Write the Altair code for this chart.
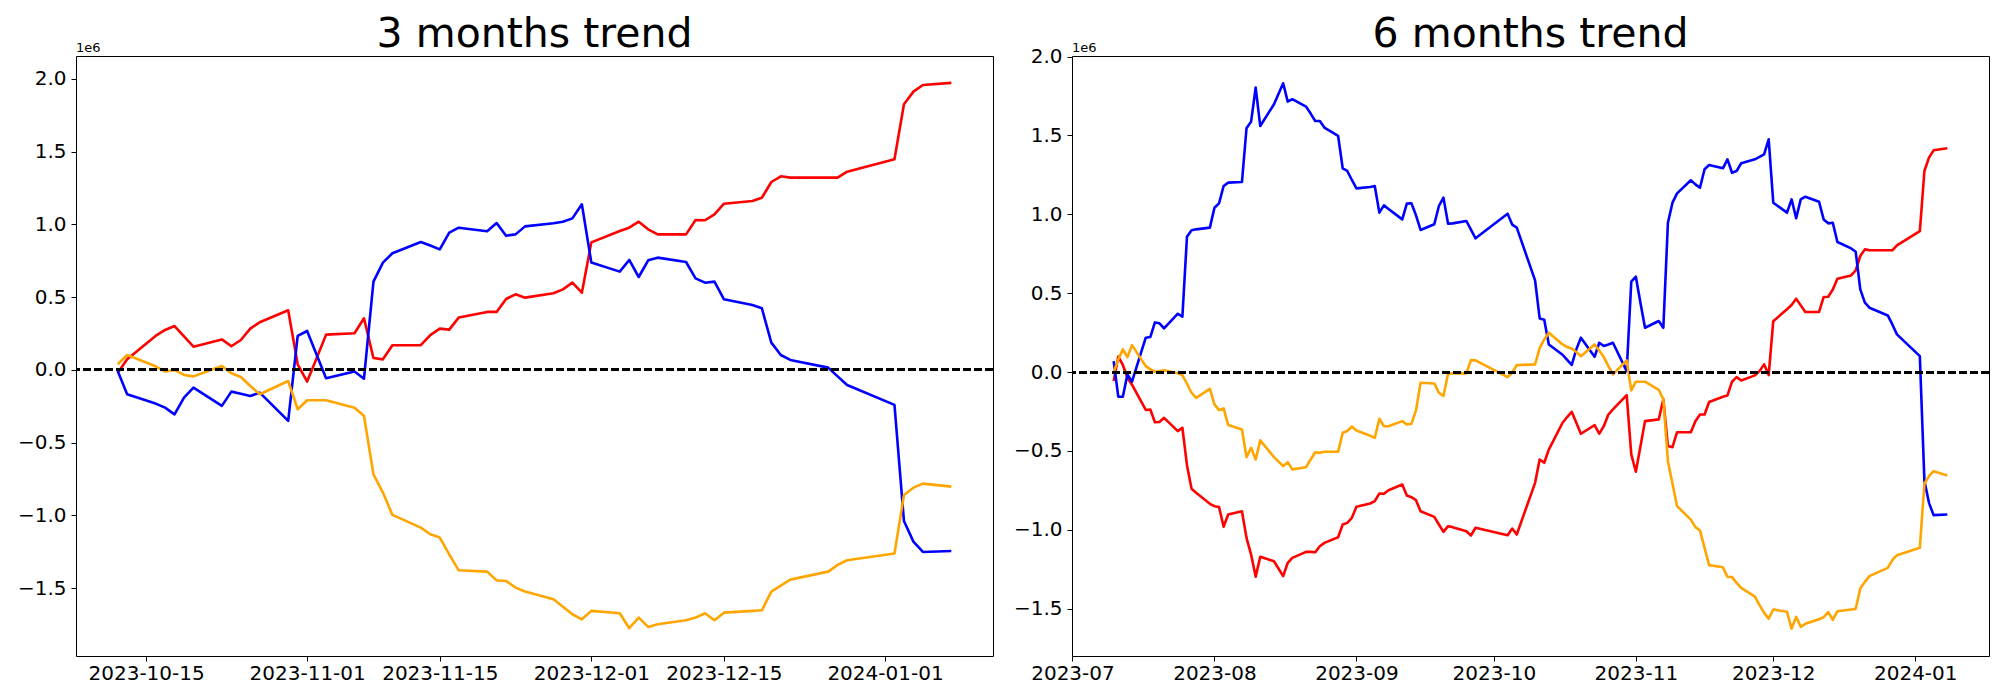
import altair as alt
import pandas as pd

# ---------------- 3 months panel (values in units of 1e6) ----------------
L_DATES = [
    "2023-10-12", "2023-10-13", "2023-10-16", "2023-10-17", "2023-10-18", "2023-10-19", "2023-10-20",
    "2023-10-23", "2023-10-24", "2023-10-25", "2023-10-26", "2023-10-27", "2023-10-30", "2023-10-31",
    "2023-11-01", "2023-11-02", "2023-11-03", "2023-11-06", "2023-11-07", "2023-11-08", "2023-11-09",
    "2023-11-10", "2023-11-13", "2023-11-14", "2023-11-15", "2023-11-16", "2023-11-17", "2023-11-20",
    "2023-11-21", "2023-11-22", "2023-11-23", "2023-11-24", "2023-11-27", "2023-11-28", "2023-11-29",
    "2023-11-30", "2023-12-01", "2023-12-04", "2023-12-05", "2023-12-06", "2023-12-07", "2023-12-08",
    "2023-12-11", "2023-12-12", "2023-12-13", "2023-12-14", "2023-12-15", "2023-12-18", "2023-12-19",
    "2023-12-20", "2023-12-21", "2023-12-22", "2023-12-26", "2023-12-27", "2023-12-28", "2024-01-02",
    "2024-01-03", "2024-01-04", "2024-01-05", "2024-01-08",
]
L_RED = [
    -0.02, 0.073, 0.234, 0.275, 0.302, 0.231, 0.16, 0.21, 0.163, 0.206, 0.284, 0.328, 0.41, 0.039,
    -0.08, 0.08, 0.243, 0.252, 0.355, 0.082, 0.073, 0.17, 0.17, 0.24, 0.284, 0.277, 0.36, 0.399,
    0.399, 0.488, 0.52, 0.497, 0.527, 0.554, 0.60, 0.531,
    0.877, 0.955, 0.978, 1.019, 0.967, 0.932, 0.932, 1.031, 1.029, 1.07, 1.143, 1.161, 1.184,
    1.292, 1.331, 1.322, 1.322, 1.322, 1.363,
    1.448, 1.826, 1.913, 1.959, 1.973,
]
L_BLUE = [
    -0.007, -0.167, -0.231, -0.259, -0.305, -0.19, -0.121, -0.247, -0.149, -0.163, -0.179, -0.156, -0.35, 0.234,
    0.268, 0.105, -0.057, -0.011, -0.06, 0.607, 0.738, 0.802, 0.88, 0.855, 0.829, 0.944, 0.978, 0.953,
    1.01, 0.923, 0.932, 0.987, 1.008, 1.019, 1.042, 1.139,
    0.738, 0.676, 0.756, 0.639, 0.754, 0.772, 0.742, 0.63, 0.6, 0.607, 0.486, 0.447, 0.424,
    0.188, 0.103, 0.069, 0.016, -0.044, -0.103,
    -0.24, -1.038, -1.18, -1.251, -1.244,
]
L_ORANGE = [
    0.039, 0.103, 0.025, -0.011, 0.0, -0.034, -0.044, 0.027, -0.023, -0.048, -0.11, -0.167, -0.076, -0.27,
    -0.208, -0.208, -0.208, -0.259, -0.316, -0.717, -0.843, -0.996, -1.084, -1.129, -1.152, -1.267, -1.377, -1.386,
    -1.446, -1.45, -1.496, -1.523, -1.576, -1.627, -1.679, -1.714,
    -1.656, -1.672, -1.775, -1.702, -1.766, -1.748, -1.72, -1.702, -1.672, -1.72, -1.668, -1.656, -1.652,
    -1.523, -1.482, -1.441, -1.386, -1.34, -1.308,
    -1.262, -0.859, -0.809, -0.781, -0.802,
]

# ---------------- 6 months panel (values in units of 1e6) ----------------
R_DATES = [
    "2023-07-10", "2023-07-11", "2023-07-12", "2023-07-13", "2023-07-14", "2023-07-17", "2023-07-18",
    "2023-07-19", "2023-07-20", "2023-07-21", "2023-07-24", "2023-07-25", "2023-07-26", "2023-07-27",
    "2023-07-28", "2023-07-31",
    "2023-08-01", "2023-08-02", "2023-08-03", "2023-08-04", "2023-08-07", "2023-08-08", "2023-08-09",
    "2023-08-10", "2023-08-11", "2023-08-14", "2023-08-16", "2023-08-17", "2023-08-18", "2023-08-21",
    "2023-08-22", "2023-08-23", "2023-08-24", "2023-08-25", "2023-08-28", "2023-08-29", "2023-08-30",
    "2023-08-31",
    "2023-09-01", "2023-09-04", "2023-09-05", "2023-09-06", "2023-09-07", "2023-09-08", "2023-09-11",
    "2023-09-12", "2023-09-13", "2023-09-14", "2023-09-15", "2023-09-18", "2023-09-19", "2023-09-20",
    "2023-09-21", "2023-09-22", "2023-09-25", "2023-09-26", "2023-09-27",
    "2023-10-04", "2023-10-05", "2023-10-06", "2023-10-10", "2023-10-11", "2023-10-12", "2023-10-13",
    "2023-10-16", "2023-10-17", "2023-10-18", "2023-10-19", "2023-10-20", "2023-10-23", "2023-10-24",
    "2023-10-25", "2023-10-26", "2023-10-27", "2023-10-30", "2023-10-31",
    "2023-11-01", "2023-11-02", "2023-11-03", "2023-11-06", "2023-11-07", "2023-11-08", "2023-11-09",
    "2023-11-10", "2023-11-13", "2023-11-14", "2023-11-15", "2023-11-16", "2023-11-17", "2023-11-20",
    "2023-11-21", "2023-11-22", "2023-11-23", "2023-11-24", "2023-11-27", "2023-11-28", "2023-11-29",
    "2023-11-30",
    "2023-12-01", "2023-12-04", "2023-12-05", "2023-12-06", "2023-12-07", "2023-12-08", "2023-12-11",
    "2023-12-12", "2023-12-13", "2023-12-14", "2023-12-15", "2023-12-18", "2023-12-19", "2023-12-20",
    "2023-12-21", "2023-12-22", "2023-12-26", "2023-12-27", "2023-12-28",
    "2024-01-02", "2024-01-03", "2024-01-04", "2024-01-05", "2024-01-08",
]
R_RED = [
    -0.057, 0.098, 0.045, -0.036, -0.08, -0.24, -0.237, -0.318, -0.316, -0.29, -0.374, -0.353, -0.59, -0.74,
    -0.765, -0.835,
    -0.85, -0.855, -0.981, -0.903, -0.882, -1.051, -1.157, -1.298, -1.171, -1.199, -1.294, -1.209, -1.178,
    -1.14, -1.14, -1.142, -1.104, -1.083, -1.047, -0.966, -0.956, -0.924,
    -0.854, -0.833, -0.818, -0.77, -0.772, -0.749, -0.713, -0.782, -0.793, -0.812, -0.882, -0.918, -0.966,
    -1.013, -0.977, -0.983, -1.009, -1.036, -0.987,
    -1.034, -0.992, -1.03, -0.702, -0.554, -0.575, -0.491, -0.321, -0.285, -0.252, -0.321, -0.391, -0.336,
    -0.391, -0.343, -0.269, -0.237, -0.146, -0.522,
    -0.632, -0.472, -0.311, -0.3, -0.173, -0.469, -0.476, -0.381, -0.381, -0.311, -0.269, -0.269, -0.19,
    -0.156, -0.148, -0.061, -0.032, -0.053, -0.021, 0.006, 0.049, -0.019,
    0.323, 0.398, 0.425, 0.465, 0.423, 0.381, 0.381, 0.476, 0.478, 0.524, 0.592, 0.613, 0.645, 0.736,
    0.778, 0.772, 0.772, 0.772, 0.803,
    0.894, 1.275, 1.36, 1.406, 1.419,
]
R_BLUE = [
    0.07, -0.156, -0.156, -0.015, -0.061, 0.218, 0.222, 0.315, 0.309, 0.277, 0.37, 0.351, 0.858, 0.899,
    0.905, 0.916,
    1.042, 1.07, 1.18, 1.201, 1.205, 1.546, 1.588, 1.804, 1.56, 1.698, 1.831, 1.715, 1.73, 1.683,
    1.639, 1.592, 1.592, 1.55, 1.497, 1.292, 1.275, 1.218,
    1.165, 1.173, 1.18, 1.011, 1.057, 1.034, 0.968, 1.068, 1.07, 0.994, 0.901, 0.937, 1.053, 1.106,
    0.941, 0.943, 0.958, 0.903, 0.848,
    1.004, 0.935, 0.916, 0.581, 0.34, 0.332, 0.175, 0.11, 0.077, 0.045, 0.144, 0.218, 0.097, 0.186,
    0.165, 0.175, 0.186, 0.006, 0.573,
    0.605, 0.44, 0.281, 0.324, 0.281, 0.947, 1.074, 1.133, 1.216, 1.19, 1.169, 1.286, 1.313, 1.292,
    1.349, 1.264, 1.275, 1.324, 1.349, 1.364, 1.381, 1.476,
    1.074, 1.011, 1.095, 0.975, 1.095, 1.112, 1.08, 0.968, 0.943, 0.947, 0.825, 0.784, 0.763, 0.524,
    0.44, 0.408, 0.359, 0.302, 0.239,
    0.101, -0.691, -0.829, -0.907, -0.903,
]
R_ORANGE = [
    0.0, 0.08, 0.144, 0.095, 0.171, 0.038, 0.017, 0.002, 0.006, 0.011, -0.008, -0.019, -0.074, -0.131,
    -0.163, -0.106,
    -0.205, -0.241, -0.23, -0.336, -0.364, -0.539, -0.48, -0.554, -0.433, -0.539, -0.596, -0.571, -0.617,
    -0.603, -0.554, -0.508, -0.512, -0.505, -0.505, -0.385, -0.374, -0.345,
    -0.37, -0.404, -0.417, -0.296, -0.343, -0.343, -0.311, -0.332, -0.328, -0.243, -0.068, -0.072, -0.131,
    -0.152, -0.011, -0.008, -0.008, 0.076, 0.074,
    -0.032, -0.004, 0.044, 0.049, 0.152, 0.207, 0.25, 0.175, 0.159, 0.15, 0.127, 0.101, 0.175, 0.137,
    0.095, 0.038, -0.015, 0.074, -0.116,
    -0.061, -0.061, -0.061, -0.112, -0.173, -0.565, -0.708, -0.85, -0.935, -0.983, -1.004, -1.114, -1.224,
    -1.237, -1.298, -1.3, -1.336, -1.368, -1.423, -1.478, -1.527, -1.563,
    -1.505, -1.52, -1.626, -1.552, -1.615, -1.596, -1.567, -1.554, -1.522, -1.571, -1.516, -1.505, -1.501,
    -1.372, -1.33, -1.294, -1.241, -1.192, -1.161,
    -1.114, -0.708, -0.66, -0.628, -0.655,
]

SERIES = ["red", "blue", "orange"]
SERIES_COLORS = ["#ff0000", "#0000ff", "#ffa500"]
Y_TICKS = [-1.5, -1.0, -0.5, 0.0, 0.5, 1.0, 1.5, 2.0]
SCALE = 1e6

FONT = "DejaVu Sans"


def dt(y, m, d, h=0, mi=0):
    return alt.DateTime(year=y, month=m, date=d, hours=h, minutes=mi, utc=True)


def panel(title, dates, red, blue, orange, xdom, xticks, xfmt, ydom):
    n = len(dates)
    df = pd.DataFrame({
        "date": dates * 3,
        "value": [v * SCALE for v in red + blue + orange],
        "series": [SERIES[0]] * n + [SERIES[1]] * n + [SERIES[2]] * n,
    })
    x = alt.X(
        "date:T",
        scale=alt.Scale(type="utc", domain=xdom, nice=False),
        axis=alt.Axis(values=xticks, labelExpr=f"utcFormat(datum.value, '{xfmt}')",
                      labelOverlap=False, labelFlush=False, labelPadding=2, title=None,
                      grid=False, domain=False),
    )
    y = alt.Y(
        "value:Q",
        scale=alt.Scale(domain=[v * SCALE for v in ydom], nice=False, zero=False),
        axis=alt.Axis(values=[v * SCALE for v in Y_TICKS],
                      labelExpr="replace(format(datum.value / 1000000, '.1f'), '-', '\u2212')",
                      minExtent=60, maxExtent=60, labelPadding=5, title=None,
                      grid=False, domain=False),
    )
    lines = alt.Chart(df).mark_line(strokeWidth=2.6, strokeJoin="round").encode(
        x=x, y=y,
        color=alt.Color("series:N", scale=alt.Scale(domain=SERIES, range=SERIES_COLORS), legend=None),
    )
    zero = alt.Chart(df).mark_rule(color="black", strokeWidth=2.2, strokeDash=[7.7, 3.3]).encode(
        y=alt.datum(0)
    )
    exp = alt.Chart(pd.DataFrame({"t": ["1e6"]})).mark_text(
        align="left", baseline="alphabetic", fontSize=13, font=FONT, color="black"
    ).encode(text="t:N", x=alt.value(0), y=alt.value(-4.3))
    return alt.layer(lines, zero, exp).properties(
        width=917, height=600,
        title=alt.TitleParams(text=title, fontSize=41, font=FONT, fontWeight="normal", color="black",
                              anchor="middle", frame="group", offset=-14),
    )


left = panel(
    "3 months trend", L_DATES, L_RED, L_BLUE, L_ORANGE,
    [dt(2023, 10, 7, 14, 24), dt(2024, 1, 12, 9, 36)],
    [dt(2023, 10, 15), dt(2023, 11, 1), dt(2023, 11, 15), dt(2023, 12, 1), dt(2023, 12, 15), dt(2024, 1, 1)],
    "%Y-%m-%d",
    [-1.966, 2.158],
)
right = panel(
    "6 months trend", R_DATES, R_RED, R_BLUE, R_ORANGE,
    [dt(2023, 6, 30, 21, 36), dt(2024, 1, 17, 2, 24)],
    [dt(2023, 7, 1), dt(2023, 8, 1), dt(2023, 9, 1), dt(2023, 10, 1), dt(2023, 11, 1), dt(2023, 12, 1), dt(2024, 1, 1)],
    "%Y-%m",
    [-1.80, 2.004],
)

chart = alt.hconcat(left, right, spacing=16).properties(
    padding={"left": 7, "top": 5, "right": 0, "bottom": 4},
    background="white",
).configure_view(
    stroke="black", strokeWidth=1
).configure_axis(
    domain=False, grid=False, ticks=True, tickColor="black", tickSize=5, tickWidth=1,
    labelFont=FONT, labelFontSize=20, labelColor="black",
)

chart.save("out.html", embed_options={"renderer": "svg", "actions": False})
